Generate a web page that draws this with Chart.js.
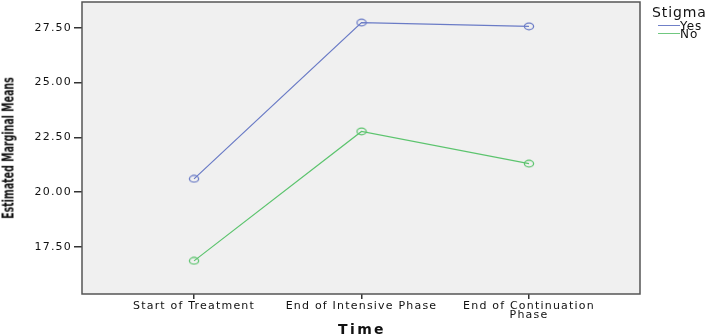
<!DOCTYPE html>
<html><head><meta charset="utf-8">
<script src="https://cdn.jsdelivr.net/npm/chart.js@4.4.1/dist/chart.umd.min.js"></script>
<style>
html,body{margin:0;padding:0;background:#fff;}
#wrap{position:relative;width:709px;height:335px;overflow:hidden;}
.ov{position:absolute;white-space:nowrap;line-height:1;font-family:"DejaVu Sans",sans-serif;color:#111;}
#lt{font-size:14px;left:652px;top:5px;letter-spacing:0.9px;}
.ln{position:absolute;left:658px;width:22px;height:1px;}
.lb{left:680px;font-size:12px;letter-spacing:0.9px;}
#ytitle{left:9px;top:148px;font-family:"DejaVu Sans Condensed","DejaVu Sans",sans-serif;font-weight:bold;font-size:15px;
  transform:translate(-50%,-50%) rotate(-90deg) scaleX(0.7);transform-origin:center center;}
#xtitle{left:362px;top:329px;font-weight:bold;font-size:14px;letter-spacing:2.4px;transform:translate(-50%,-50%);}
</style></head><body>
<div id="wrap"><canvas id="c" width="709" height="335"></canvas>
<div class="ov" id="lt">Stigma</div>
<div class="ln" style="top:25px;background:#7080c8"></div><div class="ov lb" style="top:20px">Yes</div>
<div class="ln" style="top:33px;background:#70c880"></div><div class="ov lb" style="top:28px">No</div>
<div class="ov" id="ytitle">Estimated Marginal Means</div>
<div class="ov" id="xtitle">Time</div>
</div>
<script>
const categories = ["Start of Treatment", "End of Intensive Phase", ["End of Continuation", "Phase"]];
const seriesNames = ["Yes", "No"];
const yesValues = [20.61, 27.73, 27.56];
const noValues = [16.87, 22.77, 21.30];
const yTicks = [17.5, 20, 22.5, 25, 27.5];

function ellipseMarker(color) {
  const c = document.createElement('canvas');
  c.width = 12; c.height = 9;
  const g = c.getContext('2d');
  g.strokeStyle = color; g.lineWidth = 1.3;
  g.beginPath(); g.ellipse(6, 4.5, 4.6, 3.3, 0, 0, Math.PI * 2); g.stroke();
  return c;
}

const frame = {
  id: 'frame',
  beforeDraw(chart) {
    const {ctx, chartArea: a} = chart;
    ctx.fillStyle = '#f0f0f0';
    ctx.fillRect(a.left, a.top, a.right - a.left, a.bottom - a.top);
    ctx.letterSpacing = '1.2px';
  },
  afterDatasetsDraw(chart) {
    const {ctx, chartArea: a} = chart;
    ctx.save();
    ctx.strokeStyle = '#555';
    ctx.lineWidth = 1.5;
    ctx.strokeRect(a.left, a.top, a.right - a.left, a.bottom - a.top);
    ctx.restore();
  }
};

const mk = (vals) => vals.map((v, i) => ({x: i, y: v}));
const blue = '#6a7bc6', green = '#5cc46e';

new Chart(document.getElementById('c'), {
  type: 'line',
  data: {
    datasets: [
      {label: seriesNames[0], data: mk(yesValues), borderColor: blue, borderWidth: 1.2,
       pointStyle: ellipseMarker(blue), pointRadius: 5, tension: 0},
      {label: seriesNames[1], data: mk(noValues), borderColor: green, borderWidth: 1.2,
       pointStyle: ellipseMarker(green), pointRadius: 5, tension: 0}
    ]
  },
  options: {
    responsive: false, animation: false,
    layout: {autoPadding: false, padding: {top: 2, right: 69, left: 0, bottom: 0}},
    plugins: {legend: {display: false}, tooltip: {enabled: false}},
    scales: {
      x: {
        type: 'linear', min: -0.669, max: 2.663,
        afterBuildTicks: s => { s.ticks = categories.map((c, i) => ({value: i})); },
        afterFit: s => { s.height = 41; s.paddingLeft = 0; s.paddingRight = 0; },
        ticks: {callback: (v) => categories[v], color: '#111', maxRotation: 0, autoSkip: false, padding: 2,
                font: {family: 'DejaVu Sans', size: 11, lineHeight: 0.85}},
        grid: {display: true, drawOnChartArea: false, tickLength: 5, color: '#333', lineWidth: 1.5},
        border: {display: false},
        title: {display: false}
      },
      y: {
        type: 'linear', min: 15.36, max: 28.67,
        afterBuildTicks: s => { s.ticks = yTicks.map(v => ({value: v})); },
        afterFit: s => { s.width = 82; s.paddingTop = 0; s.paddingBottom = 0; },
        ticks: {callback: v => v.toFixed(2), color: '#111', padding: 2,
                font: {family: 'DejaVu Sans', size: 11}},
        grid: {display: true, drawOnChartArea: false, tickLength: 8, color: '#333', lineWidth: 1.5},
        border: {display: false},
        title: {display: false}
      }
    }
  },
  plugins: [frame]
});
</script></body></html>
